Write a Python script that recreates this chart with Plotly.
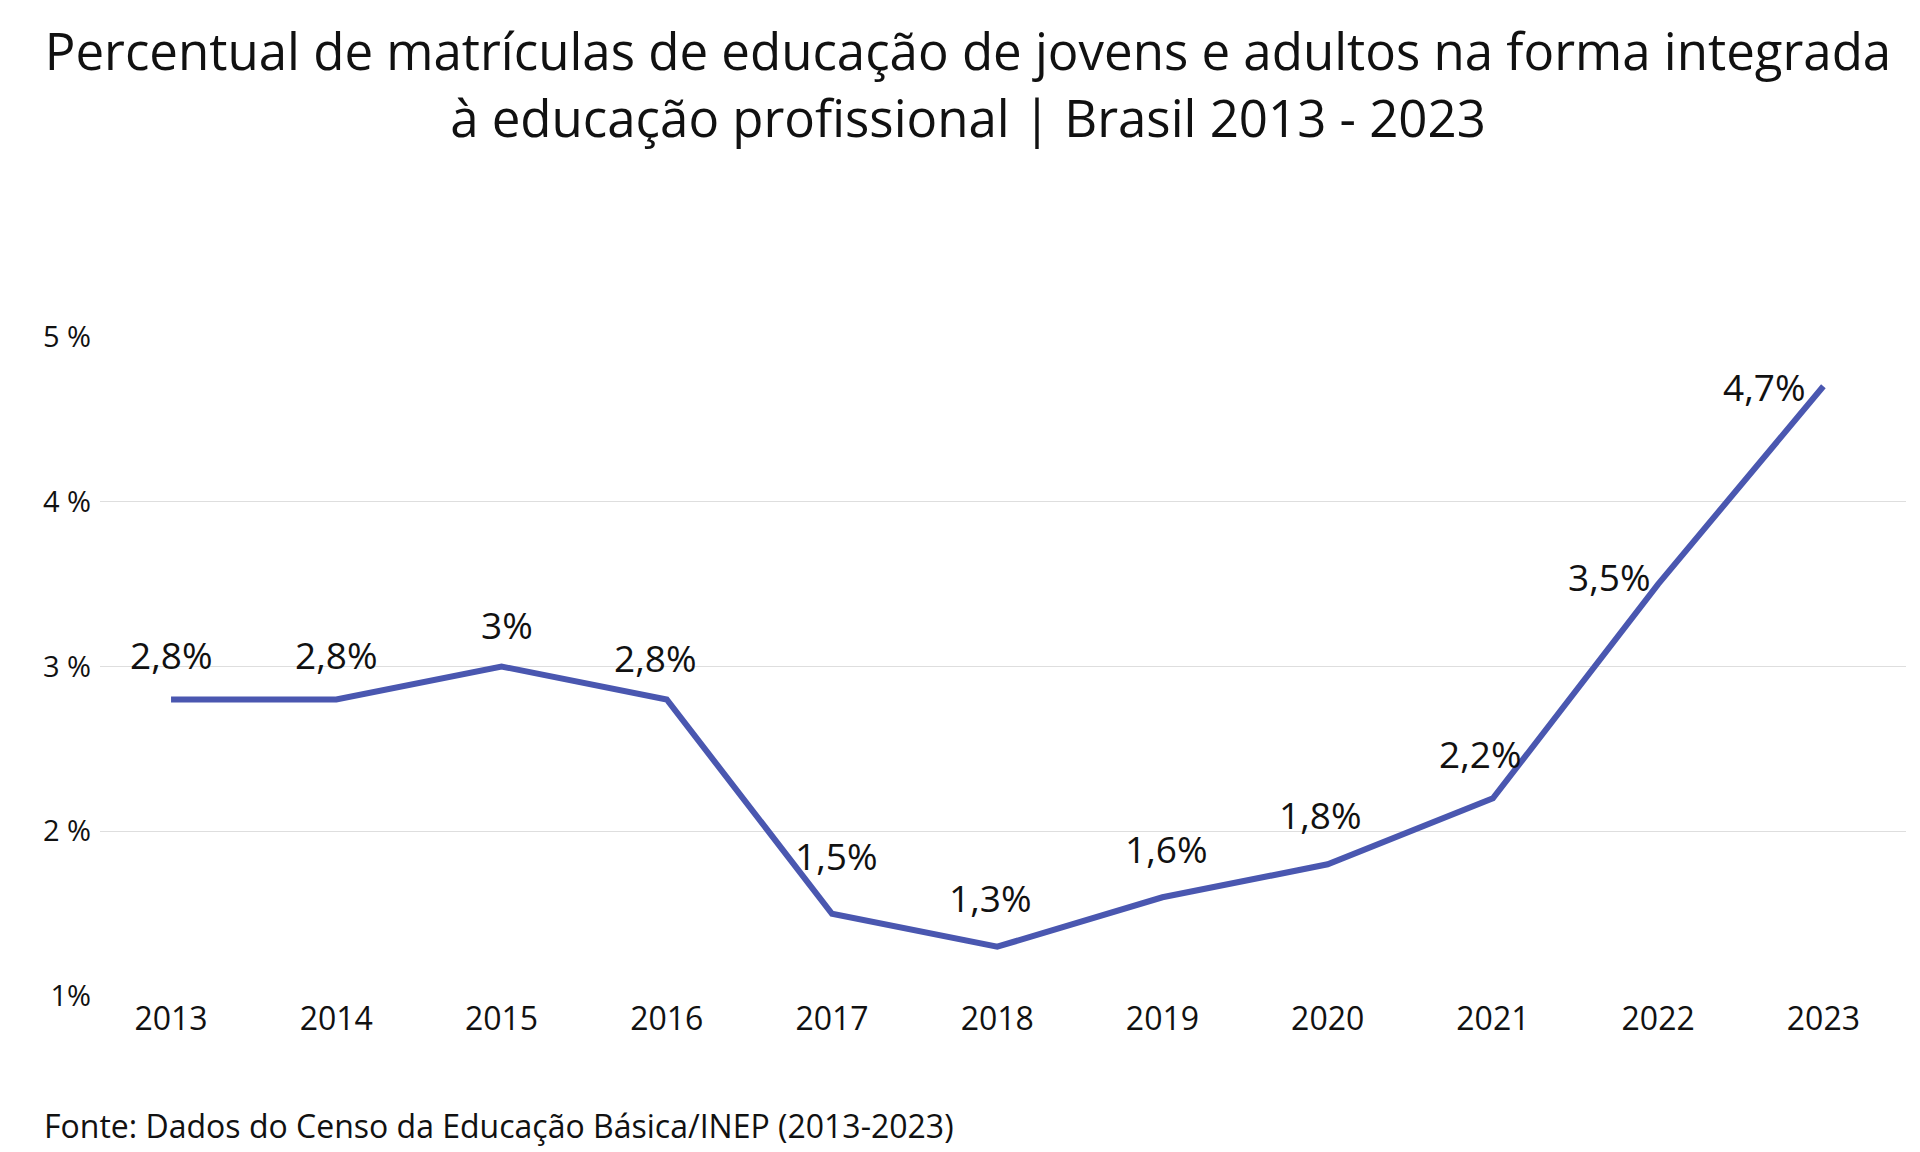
import plotly.graph_objects as go

years = [2013, 2014, 2015, 2016, 2017, 2018, 2019, 2020, 2021, 2022, 2023]
values = [2.8, 2.8, 3.0, 2.8, 1.5, 1.3, 1.6, 1.8, 2.2, 3.5, 4.7]
labels = ["2,8%", "2,8%", "3%", "2,8%", "1,5%", "1,3%", "1,6%", "1,8%", "2,2%", "3,5%", "4,7%"]
label_dx = [0, 0, 5, -12, 4, -7, 4, -8, -13, -49, -59]
label_dy = [45, 45, 42, 42, 58, 49, 49, 50, 45, 8, 0]
ytick_vals = [1, 2, 3, 4, 5]
ytick_text = ["1%", "2 %", "3 %", "4 %", "5 %"]

fig = go.Figure(go.Scatter(
    x=years, y=values, mode="lines",
    line=dict(color="#4a57b0", width=6), hoverinfo="skip"))

annotations = [dict(x=x, y=y, text=t, xref="x", yref="y", showarrow=False,
                    xshift=dx, yshift=dy, font=dict(size=37, color="#111"))
               for x, y, t, dx, dy in zip(years, values, labels, label_dx, label_dy)]
annotations.append(dict(text="Fonte: Dados do Censo da Educação Básica/INEP (2013-2023)",
                        xref="paper", yref="paper", x=0, y=0, xshift=-58, yshift=-128,
                        xanchor="left", yanchor="middle", showarrow=False,
                        font=dict(size=32, color="#111")))

fig.update_layout(
    width=1920, height=1152, paper_bgcolor="white", plot_bgcolor="white",
    font=dict(family="Open Sans", color="#111"),
    margin=dict(l=92, r=22, t=328, b=163),
    showlegend=False,
    title=dict(text="Percentual de matrículas de educação de jovens e adultos na forma integrada<br>à educação profissional | Brasil 2013 - 2023",
               x=0.5, xanchor="center", y=0.946, yanchor="top", font=dict(size=51, color="#111")),
    xaxis=dict(range=[2012.57, 2023.5], tickvals=years, showgrid=False, zeroline=False,
               tickfont=dict(size=32), ticks="", showline=False),
    yaxis=dict(range=[0.995, 5.005], tickvals=ytick_vals, ticktext=ytick_text, showgrid=True,
               gridcolor="#dedede", gridwidth=1, zeroline=False, tickfont=dict(size=29),
               ticks="", ticklabelstandoff=8),
    annotations=annotations,
)
fig.write_html("out.html")
